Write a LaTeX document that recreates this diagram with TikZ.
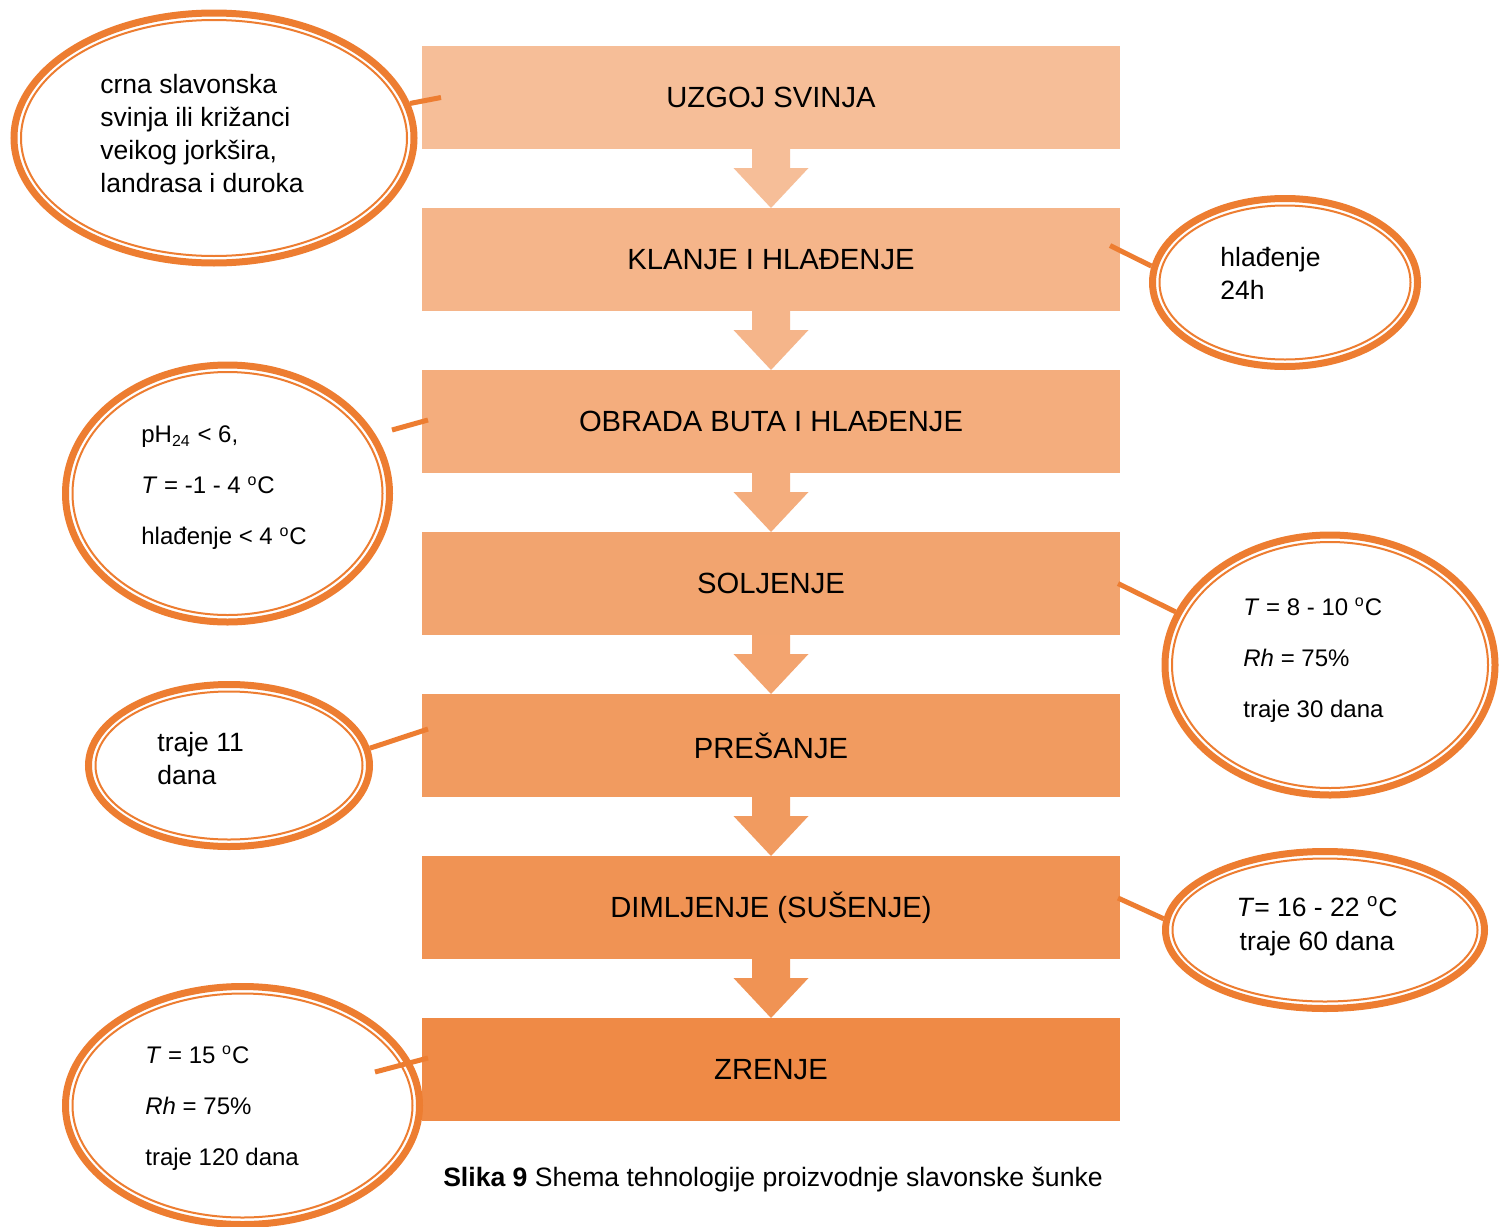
\documentclass[tikz,border=0pt]{standalone}
\usepackage{fontspec}
\setmainfont{Liberation Sans}
\usetikzlibrary{shapes.geometric,calc}

\definecolor{accent}{HTML}{ED7D31}

\tikzstyle{stage}=[rectangle, inner sep=0, outer sep=0, minimum width=349pt, minimum height=51.5pt, font=\fontsize{14.6}{17}\selectfont]
\tikzstyle{bubble}=[ellipse, draw=accent, line width=3.5pt, inner sep=0, fill=white]
\tikzstyle{ring}=[draw=accent, line width=1pt]
\tikzstyle{note}=[anchor=west, inner sep=0, align=left, font=\fontsize{13.25}{16.5}\selectfont]
\tikzstyle{smallnote}=[anchor=west, inner sep=0, align=left, font=\fontsize{12}{25.5}\selectfont]
\tikzstyle{link}=[draw=accent, line width=2.5pt]

\begin{document}
\begin{tikzpicture}[x=0.5pt, y=-0.5pt]
\path[use as bounding box, fill=white] (0,0) rectangle (1499,1226);

% process steps
\node [stage, fill=accent!50] (b1) at (771,97.5) {UZGOJ SVINJA};
\node [stage, fill=accent!57] (b2) at (771,259.5) {KLANJE I HLAĐENJE};
\node [stage, fill=accent!63] (b3) at (771,421.5) {OBRADA BUTA I HLAĐENJE};
\node [stage, fill=accent!70] (b4) at (771,583.5) {SOLJENJE};
\node [stage, fill=accent!77] (b5) at (771,745.5) {PREŠANJE};
\node [stage, fill=accent!83] (b6) at (771,907.5) {DIMLJENJE (SUŠENJE)};
\node [stage, fill=accent!90] (b7) at (771,1069.5) {ZRENJE};

% block arrows
\fill[accent!50] ($(b1.south)+(-19,0)$) -- ++(0,19) -- ++(-18.5,0) -- (b2.north) -- ($(b1.south)+(37.5,19)$) -- ++(-18.5,0) -- ++(0,-19) -- cycle;
\fill[accent!57] ($(b2.south)+(-19,0)$) -- ++(0,19) -- ++(-18.5,0) -- (b3.north) -- ($(b2.south)+(37.5,19)$) -- ++(-18.5,0) -- ++(0,-19) -- cycle;
\fill[accent!63] ($(b3.south)+(-19,0)$) -- ++(0,19) -- ++(-18.5,0) -- (b4.north) -- ($(b3.south)+(37.5,19)$) -- ++(-18.5,0) -- ++(0,-19) -- cycle;
\fill[accent!70] ($(b4.south)+(-19,0)$) -- ++(0,19) -- ++(-18.5,0) -- (b5.north) -- ($(b4.south)+(37.5,19)$) -- ++(-18.5,0) -- ++(0,-19) -- cycle;
\fill[accent!77] ($(b5.south)+(-19,0)$) -- ++(0,19) -- ++(-18.5,0) -- (b6.north) -- ($(b5.south)+(37.5,19)$) -- ++(-18.5,0) -- ++(0,-19) -- cycle;
\fill[accent!83] ($(b6.south)+(-19,0)$) -- ++(0,19) -- ++(-18.5,0) -- (b7.north) -- ($(b6.south)+(37.5,19)$) -- ++(-18.5,0) -- ++(0,-19) -- cycle;

% side notes
\node [bubble, minimum width=200pt, minimum height=125pt] (e1) at (214,138) {};
\draw [ring] (e1.center) ellipse (193 and 118);
\node [bubble, minimum width=132.5pt, minimum height=84pt] (e2) at (1285,282.5) {};
\draw [ring] (e2.center) ellipse (125.5 and 77);
\node [bubble, minimum width=162pt, minimum height=128.5pt] (e3) at (227.5,493.5) {};
\draw [ring] (e3.center) ellipse (155 and 121.5);
\node [bubble, minimum width=165pt, minimum height=130pt] (e4) at (1330,665) {};
\draw [ring] (e4.center) ellipse (158 and 123);
\node [bubble, minimum width=140.5pt, minimum height=81pt] (e5) at (229,765.5) {};
\draw [ring] (e5.center) ellipse (133.5 and 74);
\node [bubble, minimum width=159.5pt, minimum height=78.5pt] (e6) at (1325,930) {};
\draw [ring] (e6.center) ellipse (152.5 and 71.5);
\node [bubble, minimum width=177pt, minimum height=119pt] (e7) at (242.5,1105.5) {};
\draw [ring] (e7.center) ellipse (170 and 112);

\node [note] (t1) at (100,133.5) {crna slavonska\\svinja ili križanci\\veikog jorkšira,\\landrasa i duroka};
\node [note] (t2) at (1220,273.5) {hlađenje\\24h};
\node [smallnote] (t3) at (141,488) {pH\textsubscript{24} < 6,\\\textit{T} = -1 - 4 \textsuperscript{o}C\\hlađenje < 4 \textsuperscript{o}C};
\node [smallnote] (t4) at (1243,660) {\textit{T} = 8 - 10 \textsuperscript{o}C\\\textit{Rh} = 75\%\\traje 30 dana};
\node [note] (t5) at (157,758.5) {traje 11\\dana};
\node [note, anchor=center, align=center, font=\fontsize{13.25}{17}\selectfont] (t6) at (1317,926) {\textit{T}= 16 - 22 \textsuperscript{o}C\\traje 60 dana};
\node [smallnote] (t7) at (145,1108.5) {\textit{T} = 15 \textsuperscript{o}C\\\textit{Rh} = 75\%\\traje 120 dana};

% connectors
\coordinate (k3) at (392,430);
\coordinate (k7) at (375,1072);
\draw [link] (e1.10) -- ($(b1.west)+(19,0)$);
\draw [link] (e2.173) -- ($(b2.east)+(-10,-14)$);
\draw [link] (k3) -- ($(b3.west)+(6,-1.5)$);
\draw [link] (e4.161) -- ($(b4.east)+(-2,0)$);
\draw [link] (e5.7) -- ($(b5.west)+(6,-16.5)$);
\draw [link] (e6.176) -- ($(b6.east)+(-2,-9.5)$);
\draw [link] (k7) -- ($(b7.west)+(6,-11.5)$);

\node [font=\fontsize{13.3}{16}\selectfont] (cap) at (773,1180) {\textbf{Slika 9} Shema tehnologije proizvodnje slavonske šunke};
\end{tikzpicture}
\end{document}
